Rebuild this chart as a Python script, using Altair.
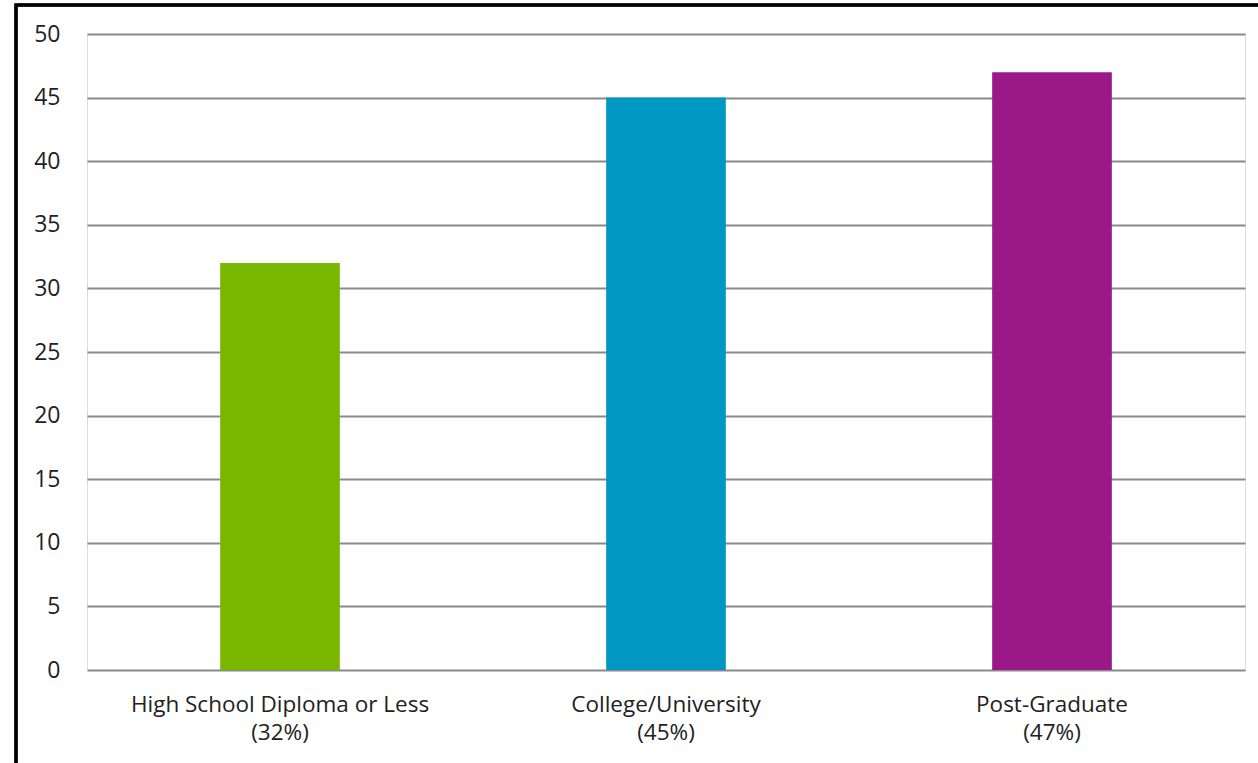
import altair as alt
import pandas as pd

# Education level categories, their share labels and bar heights
categories = ["High School Diploma or Less", "College/University", "Post-Graduate"]
shares = ["(32%)", "(45%)", "(47%)"]
values = [32, 45, 47]
colors = ["#7AB800", "#0098C3", "#9B1889"]

df = pd.DataFrame({
    "label": [f"{c}|{s}" for c, s in zip(categories, shares)],
    "value": values,
    "color": colors,
})
order = list(df["label"])

bars = alt.Chart(df).mark_bar().encode(
    x=alt.X(
        "label:N",
        sort=order,
        scale=alt.Scale(paddingInner=0.69, paddingOuter=0.345),
        axis=alt.Axis(
            title=None,
            labelAngle=0,
            labelExpr="split(datum.label, '|')",
            labelFontSize=22.5,
            labelColor="#222222",
            labelFont="Open Sans",
            labelLineHeight=28,
            labelLimit=500,
            labelPadding=23,
            ticks=False,
            domain=False,
            grid=False,
        ),
    ),
    y=alt.Y(
        "value:Q",
        scale=alt.Scale(domain=[0, 50], nice=False),
        axis=alt.Axis(
            title=None,
            values=list(range(0, 51, 5)),
            labelFontSize=23,
            labelColor="#222222",
            labelFont="Open Sans",
            labelPadding=27,
            ticks=False,
            domain=False,
            gridColor="#8a8a8a",
            gridWidth=2,
        ),
    ),
    color=alt.Color("color:N", scale=None, legend=None),
)

# outer frame around the chart area
frame = alt.Chart(df).mark_rect(
    fill=None, stroke="#000000", strokeWidth=3, clip=False
).encode(
    x=alt.value(-71), x2=alt.value(1300),
    y=alt.value(-29), y2=alt.value(800),
)

chart = alt.layer(bars, frame).properties(
    width=1158,
    height=636,
    padding={"left": 87, "top": 34, "right": 13, "bottom": 93},
    autosize=alt.AutoSizeParams(type="none"),
).configure_view(stroke=None).configure(background="#ffffff")

chart.save("out.html", embed_options={"renderer": "svg", "actions": False})
